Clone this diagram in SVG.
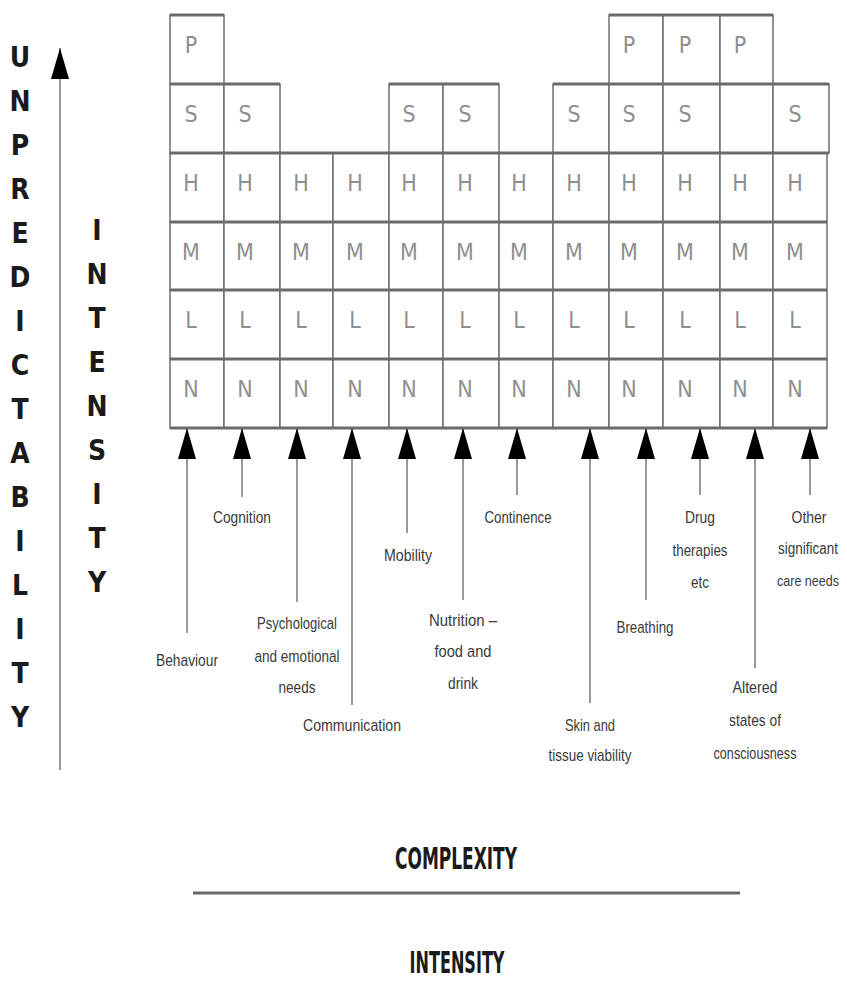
<svg xmlns="http://www.w3.org/2000/svg" width="847" height="981" viewBox="0 0 847 981">
<defs>
<style>
.cell{fill:#fff;stroke:#6f6f6f;stroke-width:1.5}
.hz{fill:none;stroke:#6a6a6a;stroke-width:3}
.lt{font-family:"DejaVu Sans Condensed","Liberation Sans",sans-serif;font-size:23px;fill:#8f8f8f;text-anchor:middle}
.lab{font-family:"Liberation Sans",Arial,sans-serif;font-size:17px;fill:#3a3a3a;text-anchor:middle}
.ax{font-family:"DejaVu Sans Condensed","Liberation Sans",sans-serif;font-size:28px;font-weight:bold;fill:#1a1a1a;text-anchor:middle}
.big{font-family:"DejaVu Sans Condensed","Liberation Sans",sans-serif;font-size:30px;font-weight:bold;fill:#1a1a1a;text-anchor:middle}
.con{fill:none;stroke:#777;stroke-width:1.5;marker-end:url(#ah)}
</style>
<marker id="ah" viewBox="0 0 31 18" refX="31" refY="9" markerWidth="31" markerHeight="18" markerUnits="userSpaceOnUse" orient="auto">
<path d="M0,0 L31,9 L0,18 z" fill="#000"/>
</marker>
</defs>
<rect width="847" height="981" fill="#fff"/>

<g id="axis-unpredictability">
<line class="con" x1="60" y1="770" x2="60" y2="48"/>
<text class="ax" x="20" y="67">U</text>
<text class="ax" x="20" y="111">N</text>
<text class="ax" x="20" y="155">P</text>
<text class="ax" x="20" y="199">R</text>
<text class="ax" x="20" y="243">E</text>
<text class="ax" x="20" y="287">D</text>
<text class="ax" x="20" y="331">I</text>
<text class="ax" x="20" y="375">C</text>
<text class="ax" x="20" y="419">T</text>
<text class="ax" x="20" y="463">A</text>
<text class="ax" x="20" y="507">B</text>
<text class="ax" x="20" y="551">I</text>
<text class="ax" x="20" y="595">L</text>
<text class="ax" x="20" y="639">I</text>
<text class="ax" x="20" y="683">T</text>
<text class="ax" x="20" y="727">Y</text>
</g>

<g id="axis-intensity">
<text class="ax" x="97" y="240">I</text>
<text class="ax" x="97" y="284">N</text>
<text class="ax" x="97" y="328">T</text>
<text class="ax" x="97" y="372">E</text>
<text class="ax" x="97" y="416">N</text>
<text class="ax" x="97" y="460">S</text>
<text class="ax" x="97" y="504">I</text>
<text class="ax" x="97" y="548">T</text>
<text class="ax" x="97" y="592">Y</text>
</g>

<g id="grid">
<g id="col-1">
<rect class="cell" x="170" y="15" width="54" height="69"/><rect class="cell" x="170" y="84" width="54" height="69"/><rect class="cell" x="170" y="153" width="54" height="69"/><rect class="cell" x="170" y="222" width="54" height="68"/><rect class="cell" x="170" y="290" width="54" height="69"/><rect class="cell" x="170" y="359" width="54" height="69"/>
<path class="hz" d="M170,15H224M170,84H224M170,153H224M170,222H224M170,290H224M170,359H224M170,428H224"/>
<text class="lt" x="191" y="53">P</text><text class="lt" x="191" y="122">S</text><text class="lt" x="191" y="191">H</text><text class="lt" x="191" y="260">M</text><text class="lt" x="191" y="328">L</text><text class="lt" x="191" y="397">N</text>
</g>
<g id="col-2">
<rect class="cell" x="224" y="84" width="56" height="69"/><rect class="cell" x="224" y="153" width="56" height="69"/><rect class="cell" x="224" y="222" width="56" height="68"/><rect class="cell" x="224" y="290" width="56" height="69"/><rect class="cell" x="224" y="359" width="56" height="69"/>
<path class="hz" d="M224,84H280M224,153H280M224,222H280M224,290H280M224,359H280M224,428H280"/>
<text class="lt" x="245" y="122">S</text><text class="lt" x="245" y="191">H</text><text class="lt" x="245" y="260">M</text><text class="lt" x="245" y="328">L</text><text class="lt" x="245" y="397">N</text>
</g>
<g id="col-3">
<rect class="cell" x="280" y="153" width="53" height="69"/><rect class="cell" x="280" y="222" width="53" height="68"/><rect class="cell" x="280" y="290" width="53" height="69"/><rect class="cell" x="280" y="359" width="53" height="69"/>
<path class="hz" d="M280,153H333M280,222H333M280,290H333M280,359H333M280,428H333"/>
<text class="lt" x="301" y="191">H</text><text class="lt" x="301" y="260">M</text><text class="lt" x="301" y="328">L</text><text class="lt" x="301" y="397">N</text>
</g>
<g id="col-4">
<rect class="cell" x="333" y="153" width="56" height="69"/><rect class="cell" x="333" y="222" width="56" height="68"/><rect class="cell" x="333" y="290" width="56" height="69"/><rect class="cell" x="333" y="359" width="56" height="69"/>
<path class="hz" d="M333,153H389M333,222H389M333,290H389M333,359H389M333,428H389"/>
<text class="lt" x="355" y="191">H</text><text class="lt" x="355" y="260">M</text><text class="lt" x="355" y="328">L</text><text class="lt" x="355" y="397">N</text>
</g>
<g id="col-5">
<rect class="cell" x="389" y="84" width="54" height="69"/><rect class="cell" x="389" y="153" width="54" height="69"/><rect class="cell" x="389" y="222" width="54" height="68"/><rect class="cell" x="389" y="290" width="54" height="69"/><rect class="cell" x="389" y="359" width="54" height="69"/>
<path class="hz" d="M389,84H443M389,153H443M389,222H443M389,290H443M389,359H443M389,428H443"/>
<text class="lt" x="409" y="122">S</text><text class="lt" x="409" y="191">H</text><text class="lt" x="409" y="260">M</text><text class="lt" x="409" y="328">L</text><text class="lt" x="409" y="397">N</text>
</g>
<g id="col-6">
<rect class="cell" x="443" y="84" width="56" height="69"/><rect class="cell" x="443" y="153" width="56" height="69"/><rect class="cell" x="443" y="222" width="56" height="68"/><rect class="cell" x="443" y="290" width="56" height="69"/><rect class="cell" x="443" y="359" width="56" height="69"/>
<path class="hz" d="M443,84H499M443,153H499M443,222H499M443,290H499M443,359H499M443,428H499"/>
<text class="lt" x="465" y="122">S</text><text class="lt" x="465" y="191">H</text><text class="lt" x="465" y="260">M</text><text class="lt" x="465" y="328">L</text><text class="lt" x="465" y="397">N</text>
</g>
<g id="col-7">
<rect class="cell" x="499" y="153" width="54" height="69"/><rect class="cell" x="499" y="222" width="54" height="68"/><rect class="cell" x="499" y="290" width="54" height="69"/><rect class="cell" x="499" y="359" width="54" height="69"/>
<path class="hz" d="M499,153H553M499,222H553M499,290H553M499,359H553M499,428H553"/>
<text class="lt" x="519" y="191">H</text><text class="lt" x="519" y="260">M</text><text class="lt" x="519" y="328">L</text><text class="lt" x="519" y="397">N</text>
</g>
<g id="col-8">
<rect class="cell" x="553" y="84" width="56" height="69"/><rect class="cell" x="553" y="153" width="56" height="69"/><rect class="cell" x="553" y="222" width="56" height="68"/><rect class="cell" x="553" y="290" width="56" height="69"/><rect class="cell" x="553" y="359" width="56" height="69"/>
<path class="hz" d="M553,84H609M553,153H609M553,222H609M553,290H609M553,359H609M553,428H609"/>
<text class="lt" x="574" y="122">S</text><text class="lt" x="574" y="191">H</text><text class="lt" x="574" y="260">M</text><text class="lt" x="574" y="328">L</text><text class="lt" x="574" y="397">N</text>
</g>
<g id="col-9">
<rect class="cell" x="609" y="15" width="54" height="69"/><rect class="cell" x="609" y="84" width="54" height="69"/><rect class="cell" x="609" y="153" width="54" height="69"/><rect class="cell" x="609" y="222" width="54" height="68"/><rect class="cell" x="609" y="290" width="54" height="69"/><rect class="cell" x="609" y="359" width="54" height="69"/>
<path class="hz" d="M609,15H663M609,84H663M609,153H663M609,222H663M609,290H663M609,359H663M609,428H663"/>
<text class="lt" x="629" y="53">P</text><text class="lt" x="629" y="122">S</text><text class="lt" x="629" y="191">H</text><text class="lt" x="629" y="260">M</text><text class="lt" x="629" y="328">L</text><text class="lt" x="629" y="397">N</text>
</g>
<g id="col-10">
<rect class="cell" x="663" y="15" width="57" height="69"/><rect class="cell" x="663" y="84" width="57" height="69"/><rect class="cell" x="663" y="153" width="57" height="69"/><rect class="cell" x="663" y="222" width="57" height="68"/><rect class="cell" x="663" y="290" width="57" height="69"/><rect class="cell" x="663" y="359" width="57" height="69"/>
<path class="hz" d="M663,15H720M663,84H720M663,153H720M663,222H720M663,290H720M663,359H720M663,428H720"/>
<text class="lt" x="685" y="53">P</text><text class="lt" x="685" y="122">S</text><text class="lt" x="685" y="191">H</text><text class="lt" x="685" y="260">M</text><text class="lt" x="685" y="328">L</text><text class="lt" x="685" y="397">N</text>
</g>
<g id="col-11">
<rect class="cell" x="720" y="15" width="53" height="69"/><rect class="cell" x="720" y="84" width="53" height="69"/><rect class="cell" x="720" y="153" width="53" height="69"/><rect class="cell" x="720" y="222" width="53" height="68"/><rect class="cell" x="720" y="290" width="53" height="69"/><rect class="cell" x="720" y="359" width="53" height="69"/>
<path class="hz" d="M720,15H773M720,84H773M720,153H773M720,222H773M720,290H773M720,359H773M720,428H773"/>
<text class="lt" x="740" y="53">P</text><text class="lt" x="740" y="191">H</text><text class="lt" x="740" y="260">M</text><text class="lt" x="740" y="328">L</text><text class="lt" x="740" y="397">N</text>
</g>
<g id="col-12">
<rect class="cell" x="773" y="84" width="56" height="69"/><rect class="cell" x="773" y="153" width="54" height="69"/><rect class="cell" x="773" y="222" width="54" height="68"/><rect class="cell" x="773" y="290" width="54" height="69"/><rect class="cell" x="773" y="359" width="54" height="69"/>
<path class="hz" d="M773,84H829M773,153H829M773,222H827M773,290H827M773,359H827M773,428H827"/>
<text class="lt" x="795" y="122">S</text><text class="lt" x="795" y="191">H</text><text class="lt" x="795" y="260">M</text><text class="lt" x="795" y="328">L</text><text class="lt" x="795" y="397">N</text>
</g>
</g>

<g id="connectors">
<line class="con" x1="187" y1="633" x2="187" y2="428"/>
<line class="con" x1="242" y1="497" x2="242" y2="428"/>
<line class="con" x1="297" y1="602" x2="297" y2="428"/>
<line class="con" x1="352" y1="705" x2="352" y2="428"/>
<line class="con" x1="407" y1="533" x2="407" y2="428"/>
<line class="con" x1="463" y1="600" x2="463" y2="428"/>
<line class="con" x1="517" y1="495" x2="517" y2="428"/>
<line class="con" x1="590" y1="703" x2="590" y2="428"/>
<line class="con" x1="646" y1="600" x2="646" y2="428"/>
<line class="con" x1="700" y1="495" x2="700" y2="428"/>
<line class="con" x1="755" y1="668" x2="755" y2="428"/>
<line class="con" x1="810" y1="495" x2="810" y2="428"/>
</g>

<g id="label-behaviour"><text class="lab" x="187" y="666" textLength="62" lengthAdjust="spacingAndGlyphs">Behaviour</text></g>
<g id="label-cognition"><text class="lab" x="242" y="523" textLength="58" lengthAdjust="spacingAndGlyphs">Cognition</text></g>
<g id="label-psychological"><text class="lab" x="297" y="629" textLength="80" lengthAdjust="spacingAndGlyphs">Psychological</text><text class="lab" x="297" y="662" textLength="85" lengthAdjust="spacingAndGlyphs">and emotional</text><text class="lab" x="297" y="693" textLength="37" lengthAdjust="spacingAndGlyphs">needs</text></g>
<g id="label-communication"><text class="lab" x="352" y="731" textLength="98" lengthAdjust="spacingAndGlyphs">Communication</text></g>
<g id="label-mobility"><text class="lab" x="408" y="561" textLength="48" lengthAdjust="spacingAndGlyphs">Mobility</text></g>
<g id="label-nutrition"><text class="lab" x="463" y="626" textLength="68" lengthAdjust="spacingAndGlyphs">Nutrition –</text><text class="lab" x="463" y="657" textLength="57" lengthAdjust="spacingAndGlyphs">food and</text><text class="lab" x="463" y="689" textLength="30" lengthAdjust="spacingAndGlyphs">drink</text></g>
<g id="label-continence"><text class="lab" x="518" y="523" textLength="67" lengthAdjust="spacingAndGlyphs">Continence</text></g>
<g id="label-skin"><text class="lab" x="590" y="731" textLength="50" lengthAdjust="spacingAndGlyphs">Skin and</text><text class="lab" x="590" y="761" textLength="83" lengthAdjust="spacingAndGlyphs">tissue viability</text></g>
<g id="label-breathing"><text class="lab" x="645" y="633" textLength="57" lengthAdjust="spacingAndGlyphs">Breathing</text></g>
<g id="label-drug"><text class="lab" x="700" y="523" textLength="30" lengthAdjust="spacingAndGlyphs">Drug</text><text class="lab" x="700" y="556" textLength="55" lengthAdjust="spacingAndGlyphs">therapies</text><text class="lab" x="700" y="588" textLength="18" lengthAdjust="spacingAndGlyphs">etc</text></g>
<g id="label-altered"><text class="lab" x="755" y="693" textLength="45" lengthAdjust="spacingAndGlyphs">Altered</text><text class="lab" x="755" y="726" textLength="52" lengthAdjust="spacingAndGlyphs">states of</text><text class="lab" x="755" y="759" textLength="83" lengthAdjust="spacingAndGlyphs">consciousness</text></g>
<g id="label-other"><text class="lab" x="809" y="523" textLength="35" lengthAdjust="spacingAndGlyphs">Other</text><text class="lab" x="808" y="554" font-size="16" textLength="60" lengthAdjust="spacingAndGlyphs" style="font-size:16px">significant</text><text class="lab" x="808" y="586" textLength="62" lengthAdjust="spacingAndGlyphs" style="font-size:15px">care needs</text></g>

<g id="legend">
<text class="big" x="456" y="869" textLength="122" lengthAdjust="spacingAndGlyphs">COMPLEXITY</text>
<line x1="193" y1="893" x2="740" y2="893" stroke="#6a6a6a" stroke-width="3"/>
<text class="big" x="457" y="973" textLength="95" lengthAdjust="spacingAndGlyphs">INTENSITY</text>
</g>
</svg>
